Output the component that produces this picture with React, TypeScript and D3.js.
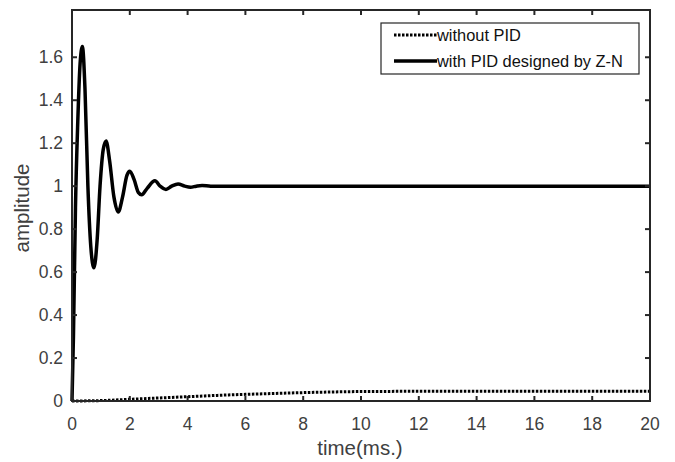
import { useEffect, useRef } from 'react';
import * as d3 from 'd3';

// step response with PID (Z-N tuning)
const pidTime = [0, 0.05, 0.12, 0.2, 0.28, 0.36, 0.45, 0.55, 0.65, 0.76, 0.87, 0.97, 1.08, 1.18, 1.3, 1.45, 1.6, 1.75, 1.9, 2.0, 2.15, 2.3, 2.41, 2.6, 2.87, 3.05, 3.25, 3.45, 3.67, 3.9, 4.1, 4.3, 4.5, 4.8, 20];
const pidAmp = [0, 0.3, 0.9, 1.3, 1.57, 1.65, 1.45, 1.0, 0.72, 0.62, 0.75, 1.0, 1.17, 1.21, 1.12, 0.95, 0.88, 0.95, 1.05, 1.07, 1.03, 0.97, 0.96, 0.99, 1.025, 1.0, 0.985, 1.0, 1.01, 1.0, 0.995, 1.0, 1.003, 1.0, 1.0];

// open loop response without PID
const rawTime = [0, 1, 2, 3, 4, 5, 6, 7, 8, 9, 10, 12, 14, 16, 18, 20];
const rawAmp = [0, 0.002, 0.008, 0.014, 0.02, 0.026, 0.031, 0.035, 0.039, 0.042, 0.044, 0.045, 0.045, 0.045, 0.045, 0.045];

const xTicks = [0, 2, 4, 6, 8, 10, 12, 14, 16, 18, 20];
const yTicks = [0, 0.2, 0.4, 0.6, 0.8, 1, 1.2, 1.4, 1.6];

const legendLabels = ['without PID', 'with PID designed by Z-N'];

export default function App() {
  const ref = useRef<SVGSVGElement>(null);

  useEffect(() => {
    if (!ref.current) return;
    const svg = d3.select(ref.current);
    svg.selectAll('*').remove();

    const left = 72, right = 650, top = 10, bottom = 401;
    const axisColor = '#262626';
    const labelColor = '#404040';
    const font = 'Liberation Sans, Arial, sans-serif';

    const x = d3.scaleLinear().domain([0, 20]).range([left, right]);
    const y = d3.scaleLinear().domain([0, 1.82]).range([bottom, top]);

    svg.append('rect')
      .attr('width', 675).attr('height', 462).attr('fill', '#fff');

    const line = d3.line<[number, number]>()
      .x(d => x(d[0]))
      .y(d => y(d[1]))
      .curve(d3.curveMonotoneX);

    // without PID (dotted)
    svg.append('path')
      .datum(rawTime.map((t, i) => [t, rawAmp[i]] as [number, number]))
      .attr('fill', 'none')
      .attr('stroke', '#000')
      .attr('stroke-width', 3)
      .attr('stroke-dasharray', '2.5,1.5')
      .attr('d', line);

    // with PID
    svg.append('path')
      .datum(pidTime.map((t, i) => [t, pidAmp[i]] as [number, number]))
      .attr('fill', 'none')
      .attr('stroke', '#000')
      .attr('stroke-width', 3.5)
      .attr('stroke-linejoin', 'round')
      .attr('d', line);

    // box
    svg.append('rect')
      .attr('x', left).attr('y', top)
      .attr('width', right - left).attr('height', bottom - top)
      .attr('fill', 'none')
      .attr('stroke', axisColor)
      .attr('stroke-width', 2);

    const tickLen = 5;
    const g = svg.append('g').attr('stroke', axisColor).attr('stroke-width', 2);
    xTicks.slice(1, -1).forEach(t => {
      g.append('line').attr('x1', x(t)).attr('x2', x(t)).attr('y1', bottom).attr('y2', bottom - tickLen);
      g.append('line').attr('x1', x(t)).attr('x2', x(t)).attr('y1', top).attr('y2', top + tickLen);
    });
    yTicks.slice(1).forEach(v => {
      g.append('line').attr('x1', left).attr('x2', left + tickLen).attr('y1', y(v)).attr('y2', y(v));
      g.append('line').attr('x1', right).attr('x2', right - tickLen).attr('y1', y(v)).attr('y2', y(v));
    });

    // tick labels
    svg.selectAll('.xl')
      .data(xTicks)
      .enter()
      .append('text')
      .attr('x', d => x(d))
      .attr('y', 430)
      .attr('text-anchor', 'middle')
      .attr('fill', labelColor)
      .style('font-family', font)
      .style('font-size', '17.5px')
      .text(d => String(d));

    svg.selectAll('.yl')
      .data(yTicks)
      .enter()
      .append('text')
      .attr('x', 63)
      .attr('y', d => y(d) + 6)
      .attr('text-anchor', 'end')
      .attr('fill', labelColor)
      .style('font-family', font)
      .style('font-size', '17.5px')
      .text(d => String(d));

    // axis titles
    svg.append('text')
      .attr('x', 360)
      .attr('y', 455)
      .attr('text-anchor', 'middle')
      .attr('fill', labelColor)
      .style('font-family', font)
      .style('font-size', '20.5px')
      .text('time(ms.)');

    svg.append('text')
      .attr('transform', 'translate(29,208) rotate(-90)')
      .attr('text-anchor', 'middle')
      .attr('fill', labelColor)
      .style('font-family', font)
      .style('font-size', '20.5px')
      .text('amplitude');

    // legend
    const lg = svg.append('g');
    lg.append('rect')
      .attr('x', 381).attr('y', 23)
      .attr('width', 258).attr('height', 51)
      .attr('fill', '#fff')
      .attr('stroke', axisColor)
      .attr('stroke-width', 1.2);
    legendLabels.forEach((label, i) => {
      const ly = 35 + i * 26;
      lg.append('line')
        .attr('x1', 394).attr('x2', 437)
        .attr('y1', ly).attr('y2', ly)
        .attr('stroke', '#000')
        .attr('stroke-width', i === 0 ? 3 : 3.5)
        .attr('stroke-dasharray', i === 0 ? '2.5,1.5' : null);
      lg.append('text')
        .attr('x', 437)
        .attr('y', ly + 6)
        .attr('fill', '#111')
        .style('font-family', font)
        .style('font-size', '16.4px')
        .text(label);
    });
  }, []);

  return (
    <svg ref={ref} width={675} height={462} style={{ position: 'absolute', left: 0, top: 0 }} />
  );
}
